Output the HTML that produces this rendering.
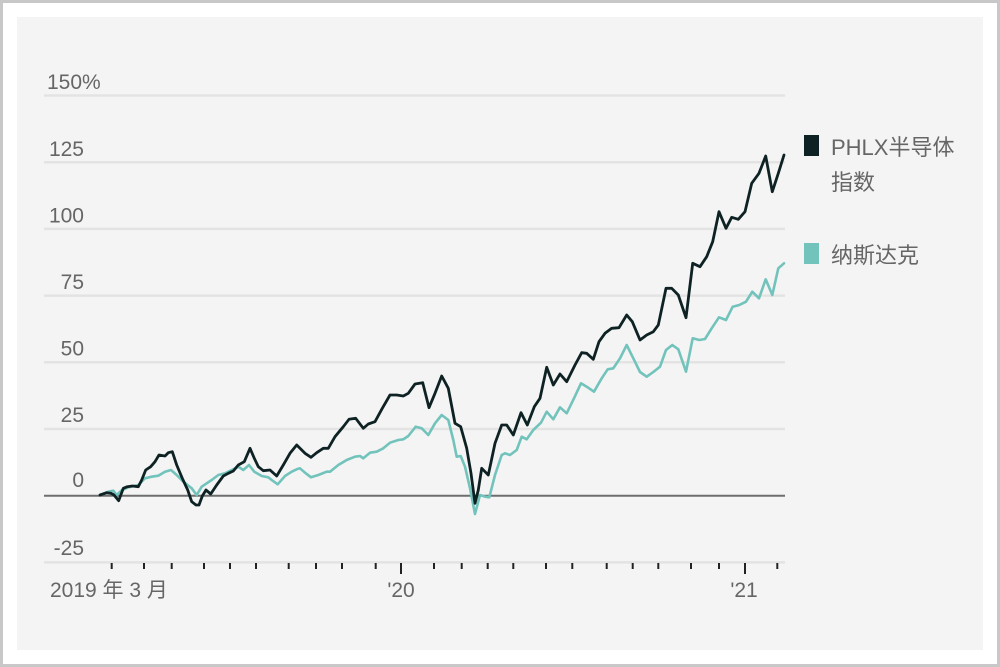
<!DOCTYPE html>
<html>
<head>
<meta charset="utf-8">
<style>
  html, body { margin:0; padding:0; background:#fff; }
  body { width:1000px; height:667px; overflow:hidden; }
  svg { display:block; }
  text { font-family: "Liberation Sans", "Noto Sans CJK SC", sans-serif; fill:#666; }
</style>
</head>
<body>
<svg width="1000" height="667" viewBox="0 0 1000 667" xmlns="http://www.w3.org/2000/svg">
  <rect x="0" y="0" width="1000" height="667" fill="#ffffff"/>
  <rect x="1.5" y="1.5" width="997" height="664" fill="none" stroke="#c8c8c8" stroke-width="3"/>
  <rect x="17" y="17" width="966" height="633" fill="#f4f4f4"/>

  <!-- gridlines -->
  <g stroke="#e3e3e3" stroke-width="2.5">
    <line x1="44" y1="95.5" x2="785" y2="95.5"/>
    <line x1="44" y1="162.2" x2="785" y2="162.2"/>
    <line x1="44" y1="228.9" x2="785" y2="228.9"/>
    <line x1="44" y1="295.6" x2="785" y2="295.6"/>
    <line x1="44" y1="362.3" x2="785" y2="362.3"/>
    <line x1="44" y1="429" x2="785" y2="429"/>
    <line x1="44" y1="562.4" x2="785" y2="562.4"/>
  </g>
  <line x1="44" y1="495.7" x2="785" y2="495.7" stroke="#6e6e6e" stroke-width="2"/>

  <!-- y labels -->
  <g font-size="21">
    <text x="47" y="89">150%</text>
    <text x="84" y="156" text-anchor="end">125</text>
    <text x="84" y="222.5" text-anchor="end">100</text>
    <text x="84" y="289" text-anchor="end">75</text>
    <text x="84" y="355.5" text-anchor="end">50</text>
    <text x="84" y="422" text-anchor="end">25</text>
    <text x="84" y="487" text-anchor="end">0</text>
    <text x="84" y="555" text-anchor="end">-25</text>
  </g>

  <!-- ticks -->
  <g stroke="#222" stroke-width="2">
    <line x1="111.7" y1="563" x2="111.7" y2="569"/>
    <line x1="144" y1="563" x2="144" y2="569"/>
    <line x1="171.7" y1="563" x2="171.7" y2="569"/>
    <line x1="204" y1="563" x2="204" y2="569"/>
    <line x1="230" y1="563" x2="230" y2="569"/>
    <line x1="256" y1="563" x2="256" y2="569"/>
    <line x1="288.7" y1="563" x2="288.7" y2="569"/>
    <line x1="316" y1="563" x2="316" y2="569"/>
    <line x1="342" y1="563" x2="342" y2="569"/>
    <line x1="375.7" y1="563" x2="375.7" y2="569"/>
    <line x1="401" y1="563" x2="401" y2="574"/>
    <line x1="434" y1="563" x2="434" y2="569"/>
    <line x1="461.7" y1="563" x2="461.7" y2="569"/>
    <line x1="487.7" y1="563" x2="487.7" y2="569"/>
    <line x1="513.3" y1="563" x2="513.3" y2="569"/>
    <line x1="546" y1="563" x2="546" y2="569"/>
    <line x1="572.3" y1="563" x2="572.3" y2="569"/>
    <line x1="606.7" y1="563" x2="606.7" y2="569"/>
    <line x1="632.7" y1="563" x2="632.7" y2="569"/>
    <line x1="658.3" y1="563" x2="658.3" y2="569"/>
    <line x1="691" y1="563" x2="691" y2="569"/>
    <line x1="719" y1="563" x2="719" y2="569"/>
    <line x1="745" y1="563" x2="745" y2="574"/>
    <line x1="777.3" y1="563" x2="777.3" y2="569"/>
  </g>

  <!-- x labels -->
  <g font-size="21">
    <text x="50" y="597">2019 年 3 月</text>
    <text x="401" y="597" text-anchor="middle">'20</text>
    <text x="744" y="597" text-anchor="middle">'21</text>
  </g>

  <!-- Nasdaq (teal) -->
  <polyline fill="none" stroke="#72c3bb" stroke-width="2.6" stroke-linejoin="round" stroke-linecap="round"
    points="100,495 108.3,491.7 113.3,490.7 116.7,495 122,490 128.3,487.3 138.3,485 145,478.3 151.7,476.7 158.3,475.7 165,471.7 171,470 176.7,475 183.3,481.7 191.7,488.3 196.7,495 201.7,486.7 206.7,483.3 211.7,480 218.3,475 225,473.3 231.7,470 238.3,466.7 243.3,470 249,465 254.3,471.7 261.7,476 268.3,477.3 271.7,480 277.7,484.3 285,476 291.7,471.7 296.7,469.3 300,468.3 305,472.7 311,477.3 318.3,475 326.7,471.7 330,471.7 338.3,465 346.7,460 355,456.7 360,456 363.3,458.3 370,452.7 376.7,451.7 383.3,448.3 390,442.7 398.3,440 403.3,439.3 408.3,436 415.7,426.7 421.7,428.3 428.3,435 435,423.3 441.7,415 448.3,420 453.3,440 456.7,456.7 460.7,456 465,466.7 470,488.3 475,514 480,495 485,496.7 489.3,497.3 495,475 501.7,455 505,453.3 510,455 516.7,450 521.7,436.7 526.7,439.3 533.3,430 541,422.7 546.7,411.7 553.3,419.3 560,407.3 566.7,413.3 574,398.3 581,383.3 586.7,386.7 594,391.7 601.7,378.3 607.7,369.3 613.3,368.3 620,358.3 626.7,345 633.3,358.3 640,372 646.7,376.7 653.3,372 660,366.7 666,350 672.3,345 678.3,349.3 686,371.7 692.7,338.3 699.3,340 705,339 711.7,328.3 719,317.3 726,320 732.7,306.7 739.3,305 746,301.7 752.3,291.7 759,298.3 765.7,279.3 772.3,295 778.3,268.3 784,263.3"/>

  <!-- PHLX (black) -->
  <polyline fill="none" stroke="#0e2224" stroke-width="2.8" stroke-linejoin="round" stroke-linecap="round"
    points="100,495 106.7,492.7 111,493.3 114,495 118.7,500.7 123.3,488.3 127.3,486.7 132.3,486 138.3,486.7 141.7,480 145.7,470 150.7,466.7 155,461.7 159,455 165,456 168.3,452.7 172.3,451.7 176.7,465 182.3,478.3 187.7,490 191.7,501.7 196,505 199,505 202.3,496 206,490 210.7,494 216.7,485 223.3,476 228.3,473.3 233.3,471 238.3,465 244.3,461.7 250,448.3 254.3,458.3 258.3,466.7 263.3,470.7 270,470 276.7,476 283.3,465 290,453.3 296.7,445 305,453.3 311,457.3 316.7,452.7 323.3,448.3 328.3,448.3 335,436.7 343.3,426.7 349,419.3 355.7,418.3 363.3,428.3 368.3,424 375,421.7 382.3,408.3 390,395 396.7,395 403.3,396 408.3,393.3 415,384 422.7,382.7 429,407.7 435,393.3 441.7,376 448.3,388.3 455,423.3 460.7,426.7 466.7,448.3 471,473.3 475,503.3 478.3,490 481.7,468.3 488.3,475 495,443.3 501.7,425 506.7,425 513.3,435 521,412.7 527.3,425 534.3,406.7 540,398.3 546.7,367.3 553.3,385 560,374 566.7,381.7 575,365 581.7,352.7 586.7,353.3 593.3,359.3 599,341.7 605,333.3 611.7,328.3 619,327.7 626.7,315 632.3,321.7 640,340 646.7,335 653.3,331.7 658.3,325 666,288.3 671.7,288.3 678.3,295 686,317.7 692.7,263.3 700,266.7 706.7,256.7 712.7,241.7 719,211.7 726,228.3 731.7,217.3 738.3,219.3 745,211.7 751.7,183.3 759,173.3 765.7,156 772.3,191.7 778.3,173.3 784,155"/>

  <!-- legend -->
  <rect x="804" y="135" width="15" height="21" fill="#0e2224"/>
  <text x="831" y="155" font-size="22">PHLX半导体</text>
  <text x="831" y="190" font-size="22">指数</text>
  <rect x="804" y="243" width="15" height="21" fill="#72c3bb"/>
  <text x="831" y="263" font-size="22">纳斯达克</text>
</svg>
</body>
</html>
